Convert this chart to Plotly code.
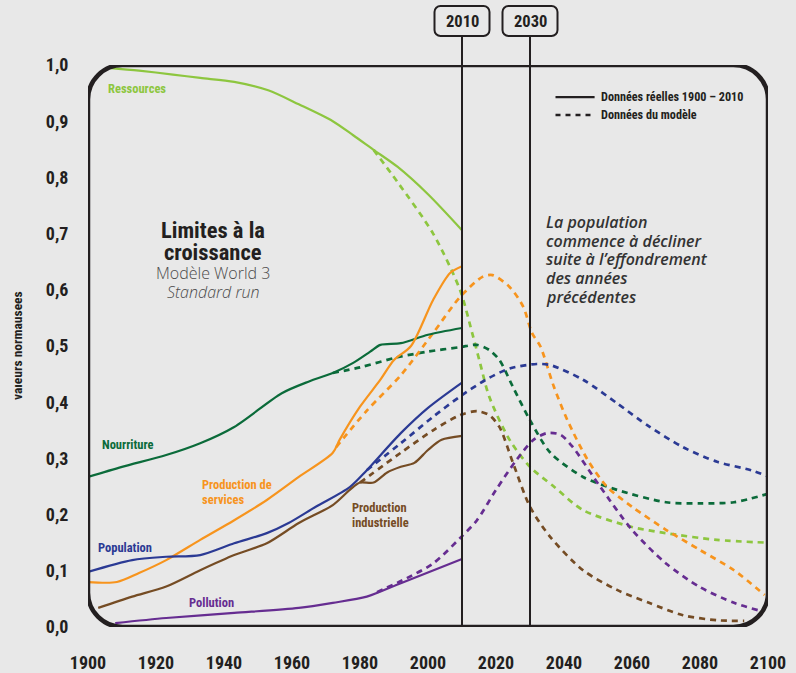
import plotly.graph_objects as go

# ---------------- data ----------------
res_real_x = [1906, 1915, 1925, 1933, 1943, 1953, 1962, 1972, 1978, 1984, 1991, 2000, 2010]
res_real_y = [0.995, 0.99, 0.983, 0.977, 0.97, 0.955, 0.93, 0.90, 0.875, 0.849, 0.819, 0.77, 0.706]
res_mod_x = [1984, 1991, 2001.5, 2009.4, 2013, 2015.3, 2018, 2024, 2030, 2037, 2045.6, 2060, 2070, 2085, 2100]
res_mod_y = [0.849, 0.792, 0.70, 0.60, 0.523, 0.47, 0.41, 0.333, 0.285, 0.25, 0.208, 0.178, 0.167, 0.155, 0.15]

food_real_x = [1900, 1910, 1923, 1933, 1943, 1957, 1965, 1972, 1978, 1983, 1986, 1992, 2000, 2010]
food_real_y = [0.267, 0.285, 0.306, 0.327, 0.356, 0.416, 0.437, 0.452, 0.47, 0.49, 0.502, 0.505, 0.52, 0.532]
food_mod_x = [1972, 1980, 1991, 2000, 2009.4, 2014.4, 2018, 2021, 2025, 2030, 2036, 2045.6, 2055.6, 2070, 2080, 2090, 2100]
food_mod_y = [0.452, 0.462, 0.48, 0.49, 0.498, 0.502, 0.493, 0.475, 0.427, 0.368, 0.31, 0.267, 0.244, 0.222, 0.22, 0.222, 0.237]

serv_real_x = [1900, 1908.5, 1915, 1923, 1933, 1943, 1952.6, 1962, 1972, 1974, 1980, 1986, 1990, 1995, 2001.5, 2006.5, 2010]
serv_real_y = [0.08, 0.08, 0.096, 0.119, 0.155, 0.19, 0.226, 0.267, 0.31, 0.333, 0.392, 0.44, 0.475, 0.50, 0.582, 0.63, 0.642]
serv_mod_x = [1973, 1982, 1992, 2001.5, 2009.4, 2016, 2019, 2024, 2028, 2030.6, 2033, 2037, 2041, 2047, 2052.6, 2060, 2070, 2080, 2090, 2099]
serv_mod_y = [0.32, 0.385, 0.448, 0.523, 0.587, 0.623, 0.626, 0.605, 0.57, 0.523, 0.5, 0.428, 0.368, 0.297, 0.25, 0.214, 0.173, 0.137, 0.101, 0.057]

pop_real_x = [1900, 1913, 1923, 1933, 1943, 1952.6, 1959, 1967, 1977, 1982, 1992, 2000, 2010]
pop_real_y = [0.098, 0.119, 0.125, 0.128, 0.149, 0.167, 0.185, 0.214, 0.249, 0.279, 0.345, 0.39, 0.435]
pop_mod_x = [1982, 1992, 2001.5, 2009.4, 2017, 2024, 2032, 2036, 2045.6, 2055.6, 2065, 2075, 2085, 2095, 2100]
pop_mod_y = [0.279, 0.327, 0.374, 0.41, 0.44, 0.46, 0.468, 0.466, 0.44, 0.398, 0.357, 0.32, 0.294, 0.279, 0.268]

ind_real_x = [1903, 1913, 1923, 1933, 1943, 1952.6, 1962, 1972, 1977, 1980, 1984, 1988, 1992, 1996, 2000, 2004, 2010]
ind_real_y = [0.034, 0.054, 0.072, 0.101, 0.128, 0.149, 0.185, 0.217, 0.244, 0.257, 0.257, 0.275, 0.285, 0.292, 0.315, 0.333, 0.34]
ind_mod_x = [1980, 1992, 2001.5, 2009.4, 2014.4, 2018, 2021, 2025, 2030, 2036, 2045.6, 2055.6, 2065, 2075, 2085, 2093]
ind_mod_y = [0.257, 0.31, 0.35, 0.377, 0.384, 0.377, 0.356, 0.292, 0.214, 0.16, 0.101, 0.066, 0.043, 0.021, 0.012, 0.011]

pol_real_x = [1908, 1923, 1943, 1962, 1972, 1982, 1992, 2010]
pol_real_y = [0.007, 0.016, 0.025, 0.034, 0.043, 0.054, 0.078, 0.121]
pol_mod_x = [1985, 1993.8, 2001.5, 2009.4, 2014.4, 2020, 2026, 2031, 2035, 2039, 2042.6, 2050.6, 2060, 2070, 2080, 2090, 2097]
pol_mod_y = [0.062, 0.087, 0.113, 0.158, 0.19, 0.244, 0.297, 0.333, 0.345, 0.342, 0.32, 0.25, 0.173, 0.113, 0.071, 0.043, 0.03]

marker_years = [2010, 2030]

# ---------------- styles ----------------
C_RES = "#8dc63f"
C_FOOD = "#0b6b3a"
C_SERV = "#f7941d"
C_POP = "#2b3a94"
C_IND = "#754c24"
C_POL = "#662d91"
INK = "#231f20"
BG = "#e8e8e8"
COND = "Roboto Condensed, Noto Sans Condensed, Liberation Sans Narrow, Roboto, sans-serif"
SANS = "Open Sans, Lato, sans-serif"

fig = go.Figure()

series = [
    (res_real_x, res_real_y, res_mod_x, res_mod_y, C_RES, "Ressources"),
    (food_real_x, food_real_y, food_mod_x, food_mod_y, C_FOOD, "Nourriture"),
    (serv_real_x, serv_real_y, serv_mod_x, serv_mod_y, C_SERV, "Production de services"),
    (pop_real_x, pop_real_y, pop_mod_x, pop_mod_y, C_POP, "Population"),
    (ind_real_x, ind_real_y, ind_mod_x, ind_mod_y, C_IND, "Production industrielle"),
    (pol_real_x, pol_real_y, pol_mod_x, pol_mod_y, C_POL, "Pollution"),
]
for rx, ry, mx, my, col, name in series:
    fig.add_trace(go.Scatter(x=mx, y=my, mode="lines", name=name + " (modèle)",
                             line=dict(color=col, width=2.7, dash="6px,5px", shape="spline", smoothing=0.8),
                             showlegend=False, hoverinfo="skip"))
for rx, ry, mx, my, col, name in series:
    fig.add_trace(go.Scatter(x=rx, y=ry, mode="lines", name=name,
                             line=dict(color=col, width=2.2, shape="spline", smoothing=0.8),
                             showlegend=False, hoverinfo="skip"))

shapes = []

def rrect_path(x0, x1, y0, y1, rx, ry):
    k = 0.5523
    return (f"M {x0+rx},{y1} L {x1-rx},{y1} "
            f"C {x1-rx+k*rx},{y1} {x1},{y1-ry+k*ry} {x1},{y1-ry} "
            f"L {x1},{y0+ry} "
            f"C {x1},{y0+ry-k*ry} {x1-rx+k*rx},{y0} {x1-rx},{y0} "
            f"L {x0+rx},{y0} "
            f"C {x0+rx-k*rx},{y0} {x0},{y0+ry-k*ry} {x0},{y0+ry} "
            f"L {x0},{y1-ry} "
            f"C {x0},{y1-ry+k*ry} {x0+rx-k*rx},{y1} {x0+rx},{y1} Z")

# vertical marker lines and their rounded label boxes
for yr in marker_years:
    shapes.append(dict(type="line", xref="x", yref="paper", x0=yr, x1=yr, y0=0, y1=1.0516,
                       line=dict(color=INK, width=2)))
    hw = 27.5 / 3.4
    shapes.append(dict(type="path", xref="x", yref="paper",
                       path=rrect_path(yr - hw, yr + hw, 1.0516, 1.105, 6 / 3.4, 6 / 562),
                       line=dict(color=INK, width=2), fillcolor=BG))

# frame
shapes.append(dict(type="path", xref="x", yref="y",
                   path=rrect_path(1900, 2100, 0, 1.0, 10.2, 0.061),
                   line=dict(color=INK, width=4.5), layer="above"))

# legend sample lines
shapes.append(dict(type="line", xref="x", yref="y", x0=2037.5, x1=2049, y0=0.943, y1=0.943,
                   line=dict(color=INK, width=2.2)))
shapes.append(dict(type="line", xref="x", yref="y", x0=2037.5, x1=2049, y0=0.911, y1=0.911,
                   line=dict(color=INK, width=2.4, dash="5px,5px")))

ann = []

def lab(text, x, y, col, size=12.5, xanchor="left", font=COND, weight="bold", style="normal"):
    ann.append(dict(text=text, x=x, y=y, xref="x", yref="y", showarrow=False, xanchor=xanchor,
                    yanchor="middle", font=dict(family=font, size=size, color=col, weight=weight, style=style)))

lab("Ressources", 1914.4, 0.959, C_RES, xanchor="center")
lab("Nourriture", 1903.6, 0.324, C_FOOD)
lab("Production de", 1933.0, 0.253, C_SERV)
lab("services", 1933.0, 0.226, C_SERV)
lab("Population", 1902.4, 0.142, C_POP)
lab("Production", 1977.2, 0.212, C_IND)
lab("industrielle", 1977.2, 0.186, C_IND)
lab("Pollution", 1929.2, 0.044, C_POL)

lab("Limites à la", 1936.8, 0.707, INK, size=22.5, xanchor="center")
lab("croissance", 1936.8, 0.668, INK, size=22.5, xanchor="center")
lab("Modèle World 3", 1936.8, 0.630, "#4a4a4a", size=16, xanchor="center", font=SANS, weight=300)
lab("Standard run", 1936.8, 0.596, "#4a4a4a", size=16, xanchor="center", font=SANS, weight=300, style="italic")

for i, t in enumerate(["La population", "commence à décliner", "suite à l’effondrement",
                       "des années", "précédentes"]):
    lab(t, 2034.0, (627 - (222 + i * 18.7)) / 562, "#333333", size=16, font=SANS, weight=600, style="italic")

lab("Données réelles 1900 – 2010", 2050.4, 0.943, INK, size=12.2)
lab("Données du modèle", 2050.4, 0.911, INK, size=12.2)

for yr in marker_years:
    ann.append(dict(text=str(yr), x=yr, y=1.078, xref="x", yref="paper", showarrow=False,
                    xanchor="center", yanchor="middle",
                    font=dict(family=COND, size=16.5, color=INK, weight="bold")))

ann.append(dict(text="vaıeurs normausees", x=0, y=0.5, xref="paper", yref="paper", xshift=-71,
                showarrow=False, textangle=-90, xanchor="center", yanchor="middle",
                font=dict(family=COND, size=13.5, color=INK, weight="bold")))

fig.update_layout(
    width=796, height=673,
    margin=dict(l=88, r=28, t=65, b=46, autoexpand=False),
    paper_bgcolor=BG, plot_bgcolor=BG,
    separators=", ",
    shapes=shapes, annotations=ann,
    showlegend=False,
    xaxis=dict(range=[1900, 2100], dtick=20, tick0=1900, showgrid=False, zeroline=False,
               showline=False, ticks="outside", ticklen=19, tickcolor="rgba(0,0,0,0)", automargin=False,
               tickfont=dict(family=COND, size=18, color=INK, weight="bold")),
    yaxis=dict(range=[0, 1.0], dtick=0.1, tickformat=".1f", showgrid=False, zeroline=False,
               showline=False, ticks="outside", ticklen=15, tickcolor="rgba(0,0,0,0)", automargin=False,
               tickfont=dict(family=COND, size=18, color=INK, weight="bold")),
)

fig.write_html("out.html", config={"displayModeBar": False},
               post_script="document.body.style.margin='0';document.body.style.backgroundColor='#e8e8e8';")
